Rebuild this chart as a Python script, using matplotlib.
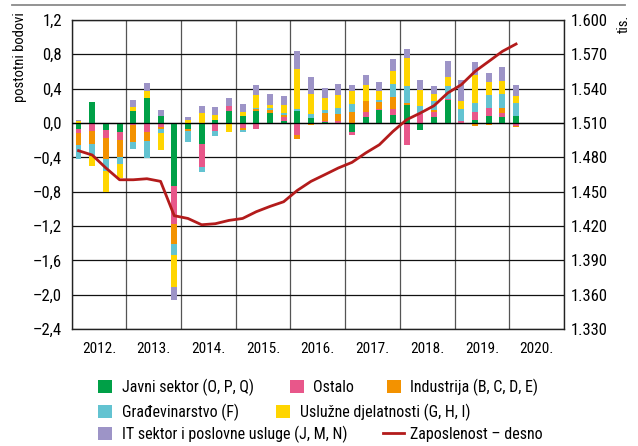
import numpy as np
import matplotlib
matplotlib.use("Agg")
import matplotlib.pyplot as plt
from matplotlib.lines import Line2D
from matplotlib.ticker import FixedLocator, FuncFormatter
from matplotlib import font_manager

years = ["2012.", "2013.", "2014.", "2015.", "2016.", "2017.", "2018.", "2019.", "2020."]

javni = [-0.07, 0.245, -0.08, -0.11, 0.144, 0.288, 0.078, -0.73, -0.07, -0.24, 0.04, 0.144,
         0.086, 0.136, 0.113, 0.027, 0.136, 0.055, 0.015, -0.015, -0.105, 0.074, 0.148, 0.097,
         0.206, -0.078, 0.066, 0.265, 0.0, 0.03, 0.086, 0.074, 0.086]
ostalo = [-0.047, -0.09, -0.1, -0.09, -0.027, -0.105, -0.05, -0.447, 0.0, -0.27, -0.09, 0.05,
          -0.058, -0.07, -0.012, 0.04, -0.14, 0.0, 0.012, 0.02, -0.03, 0.058, 0.016, 0.066,
          -0.253, 0.1, 0.058, 0.02, 0.027, 0.093, 0.086, 0.047, -0.03]
industrija = [-0.14, -0.15, -0.245, -0.2, -0.195, -0.1, -0.02, -0.23, -0.02, 0.0, 0.0, 0.0,
              -0.02, 0.03, 0.043, 0.023, -0.05, -0.027, 0.09, 0.09, 0.132, 0.128, 0.078, 0.14,
              0.027, 0.0, 0.03, 0.0, -0.015, -0.04, -0.023, 0.058, -0.02]
gradjevinarstvo = [-0.16, -0.14, -0.136, -0.08, -0.078, -0.206, -0.047, -0.128, -0.128, -0.062, -0.058, 0.0,
                   -0.03, 0.012, 0.023, 0.023, 0.03, 0.047, 0.03, 0.06, 0.09, 0.0, 0.03, 0.156,
                   0.2, 0.1, 0.105, 0.144, 0.14, 0.109, 0.152, 0.156, 0.144]
usluzne = [0.02, -0.12, -0.245, -0.165, 0.043, 0.086, -0.195, -0.38, 0.04, 0.117, 0.058, -0.105,
           0.047, 0.148, 0.03, 0.1, 0.463, 0.24, 0.148, 0.155, 0.148, 0.187, 0.097, 0.144,
           0.32, 0.19, 0.08, 0.109, 0.093, 0.33, 0.156, 0.152, 0.09]
it_sektor = [0.015, 0.0, 0.0, 0.0, 0.08, 0.097, 0.078, -0.144, 0.03, 0.086, 0.09, 0.097,
             0.093, 0.117, 0.125, 0.097, 0.214, 0.19, 0.113, 0.128, 0.078, 0.109, 0.109, 0.144,
             0.113, 0.105, 0.093, 0.18, 0.245, 0.148, 0.105, 0.16, 0.117]
zaposlenost = [1485.8, 1482.0, 1470.7, 1460.4, 1460.4, 1461.3, 1459.0, 1429.0, 1426.6, 1421.1, 1422.0, 1424.9,
               1426.6, 1432.5, 1437.1, 1441.2, 1451.1, 1459.0, 1464.8, 1470.7, 1475.6, 1483.8, 1491.0, 1502.7,
               1512.9, 1518.7, 1525.1, 1536.2, 1543.5, 1555.1, 1563.8, 1572.6, 1579.0]

series = [
    ("Javni sektor (O, P, Q)", javni, "#00A047"),
    ("Ostalo", ostalo, "#E8578A"),
    ("Industrija (B, C, D, E)", industrija, "#F39200"),
    ("Građevinarstvo (F)", gradjevinarstvo, "#63C3D1"),
    ("Uslužne djelatnosti (G, H, I)", usluzne, "#FFD500"),
    ("IT sektor i poslovne usluge (J, M, N)", it_sektor, "#9D94C7"),
]
line_label = "Zaposlenost – desno"

# font choice: narrow font if present, otherwise Liberation Sans at reduced size
names = {f.name for f in font_manager.fontManager.ttflist}
narrow = None
for cand in ["Liberation Sans Narrow", "Roboto Condensed", "Arial Narrow", "Nimbus Sans Narrow"]:
    if cand in names:
        narrow = cand
        break
if narrow:
    plt.rcParams['font.family'] = [narrow, 'DejaVu Sans']
    fs_tick, fs_year, fs_leg, fs_lab = 12, 11, 11.5, 10.5
else:
    plt.rcParams['font.family'] = ['Liberation Sans', 'DejaVu Sans']
    fs_tick, fs_year, fs_leg, fs_lab = 10.5, 9.5, 9.5, 9

fig = plt.figure(figsize=(6.38, 4.46), dpi=100)
ax = fig.add_axes([0.1124, 0.2623, 0.7715, 0.6929])

n = len(javni)
x = np.arange(n)
pos_base = np.zeros(n)
neg_base = np.zeros(n)
handles = {}
for label, vals, color in series:
    v = np.array(vals)
    bottoms = np.where(v >= 0, pos_base, neg_base)
    cont = ax.bar(x, v, bottom=bottoms, width=0.43, color=color, edgecolor='none', zorder=2, label=label)
    handles[label] = cont
    pos_base = pos_base + np.where(v > 0, v, 0)
    neg_base = neg_base + np.where(v < 0, v, 0)


def fmt_left(v, p):
    if abs(v) < 1e-9:
        return "0,0"
    return f"{v:.1f}".replace('.', ',').replace('-', '–')


ax.set_ylim(-2.4, 1.2)
ax.set_xlim(-0.5, 35.5)
ax.set_yticks(np.round(np.arange(-2.4, 1.21, 0.4), 1))
ax.yaxis.set_major_formatter(FuncFormatter(fmt_left))
ax.set_xticks(np.arange(-0.5, 36, 4))
ax.set_xticklabels([])
ax.xaxis.set_minor_locator(FixedLocator(np.arange(1.5, 36, 4)))
ax.set_xticklabels(years, minor=True)
ax.tick_params(axis='x', which='both', length=0, labelsize=fs_year, pad=9)
ax.tick_params(axis='y', length=0, labelsize=fs_tick, pad=7)
ax.grid(True, axis='y', color='#111111', linewidth=0.9, zorder=0)
ax.grid(True, axis='x', which='major', color='#555555', linewidth=0.9, zorder=0)
ax.set_axisbelow(True)
ax.axhline(0, color='black', linewidth=0.9, zorder=3)
for s in ax.spines.values():
    s.set_color('#222222')
    s.set_linewidth(1.0)

ax2 = ax.twinx()
ax2.set_ylim(1330, 1600)
ax2.set_yticks(np.arange(1330, 1601, 30))
ax2.yaxis.set_major_formatter(FuncFormatter(lambda v, p: f"{int(round(v))//1000}.{int(round(v))%1000:03d}"))
ax2.tick_params(axis='y', length=0, labelsize=fs_tick, pad=5)
ln, = ax2.plot(x, zaposlenost, color='#B31B1B', linewidth=2.0, zorder=4, label=line_label)
for s in ax2.spines.values():
    s.set_visible(False)

fig.text(20/638, 1 - 12/446, "postotni bodovi", rotation=90, ha='center', va='top', fontsize=fs_lab)
fig.text(624/638, 1 - 15/446, "tis.", rotation=90, ha='center', va='top', fontsize=fs_lab)
fig.add_artist(Line2D([12/638, 625/638], [1 - 5/446, 1 - 5/446], color='#8a8a8a', linewidth=1.3))

# legend entries placed individually (left x of marker, y centre) in pixels
px_per_em = fs_leg * 100 / 72
entries = [
    ("Javni sektor (O, P, Q)", 98, 387.5),
    ("Ostalo", 290, 387.5),
    ("Industrija (B, C, D, E)", 387, 387.5),
    ("Građevinarstvo (F)", 98, 412.5),
    ("Uslužne djelatnosti (G, H, I)", 276, 412.5),
    ("IT sektor i poslovne usluge (J, M, N)", 98, 434.5),
    (line_label, 383.5, 434.5),
]
for label, px, py in entries:
    h = ln if label == line_label else handles[label]
    hl = (20.5 if label == line_label else 13.5) / px_per_em
    fig.legend([h], [label], loc='center left', bbox_to_anchor=(px/638, 1 - py/446),
               frameon=False, fontsize=fs_leg, borderpad=0, borderaxespad=0,
               handlelength=hl, handleheight=13.5 / px_per_em,
               handletextpad=(6.5 if label == line_label else 10) / px_per_em)

fig.savefig("out.png", dpi=100)
